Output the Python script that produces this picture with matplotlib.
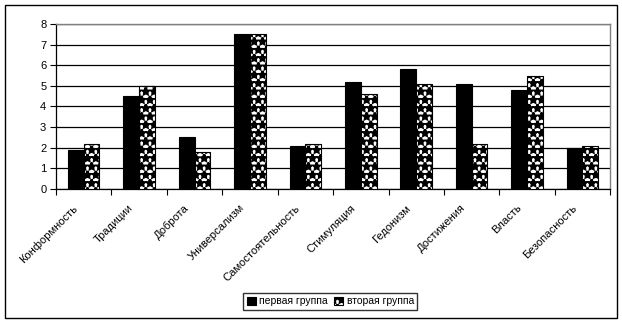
import numpy as np
import matplotlib.pyplot as plt
from matplotlib.patches import Rectangle

categories = ['Конформность', 'Традиции', 'Доброта', 'Универсализм',
              'Самостоятельность', 'Стимуляция', 'Гедонизм', 'Достижения',
              'Власть', 'Безопасность']
group1 = [1.9, 4.5, 2.5, 7.5, 2.1, 5.2, 5.8, 5.1, 4.8, 2.0]
group2 = [2.2, 5.0, 1.8, 7.5, 2.2, 4.6, 5.1, 2.2, 5.5, 2.1]
series_names = ['первая группа', 'вторая группа']

plt.rcParams['font.family'] = ['Liberation Sans', 'DejaVu Sans']
plt.rcParams['font.size'] = 7.5
plt.rcParams['hatch.linewidth'] = 1.8

fig = plt.figure(figsize=(6.22, 3.24), dpi=100)
ax = fig.add_axes([0.090, 0.4167, 0.891, 0.5093])

x = np.arange(len(categories))
w = 0.285
ax.bar(x - w / 2, group1, w, color='black', edgecolor='black', linewidth=0.8,
       label=series_names[0], zorder=3)
ax.bar(x + w / 2, group2, w, color='white', edgecolor='black', linewidth=0.8,
       hatch='**', label=series_names[1], zorder=3)

ax.set_xlim(-0.5, len(categories) - 0.5)
ax.set_ylim(0, 8)
ax.set_yticks(range(0, 9))
ax.yaxis.grid(True, color='black', linewidth=0.9, zorder=0)

# category ticks sit on the boundaries; rotated labels end a bit left of centre
ax.set_xticks(np.arange(len(categories) + 1) - 0.5)
ax.set_xticklabels([])
ax.set_xticks(x - 0.2, minor=True)
ax.set_xticklabels(categories, minor=True, rotation=45, ha='right',
                   rotation_mode='anchor', fontsize=8)
ax.tick_params(axis='x', which='minor', length=0, pad=10)
ax.tick_params(axis='x', which='major', length=4, width=0.8, direction='out')
ax.tick_params(axis='y', length=4, width=0.8, direction='out', pad=3,
               labelsize=8)

for side in ['top', 'right']:
    ax.spines[side].set_color('#808080')
    ax.spines[side].set_linewidth(1.0)
for side in ['left', 'bottom']:
    ax.spines[side].set_color('black')
    ax.spines[side].set_linewidth(0.9)

fig.legend(loc='center', bbox_to_anchor=(0.531, 0.0695), ncol=2,
           frameon=True, fancybox=False, edgecolor='black',
           handlelength=0.9, handleheight=0.9, handletextpad=0.3,
           columnspacing=0.6, borderpad=0.35)

fig.patches.append(Rectangle((0.008, 0.018), 0.984, 0.966, fill=False,
                             edgecolor='black', linewidth=1.0,
                             transform=fig.transFigure, figure=fig))

fig.savefig('out.png', dpi=100)
